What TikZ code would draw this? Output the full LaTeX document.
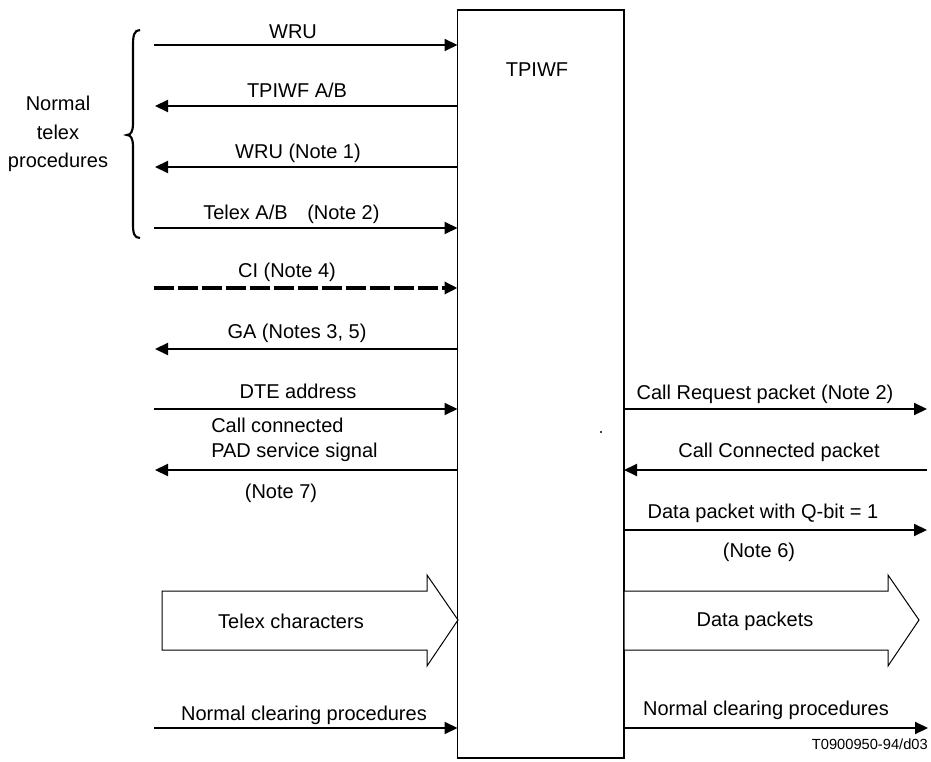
\documentclass[tikz,border=0pt]{standalone}
\usepackage{fontspec}
\setmainfont{Liberation Sans}
\usetikzlibrary{arrows.meta}
\begin{document}
\begin{tikzpicture}[x=0.75pt,y=-0.75pt,
  font=\fontsize{15}{18}\selectfont,
  arr/.style={line width=1.5pt,-{Triangle[length=9.75pt,width=9pt]}},
  dasharr/.style={line width=2.6pt,dash pattern=on 15pt off 3pt,-{Triangle[length=9.75pt,width=9pt]}},
  lbl/.style={anchor=base,inner sep=0pt},
  lbll/.style={anchor=base west,inner sep=0pt},
  bigarrow/.style={draw,line width=0.75pt,fill=white}]
\useasboundingbox (0,0) rectangle (931,762);
% central box
\node[draw,line width=1pt,outer sep=0pt,inner sep=0pt,anchor=north west,
      minimum width=124.875pt,minimum height=561pt] (tp) at (457.5,10) {};
\node[lbl] (tpl) at (537,77) {TPIWF};
% free ends on the left
\coordinate (a1) at (154,45);
\coordinate (a2) at (155,106);
\coordinate (a3) at (155,167);
\coordinate (a4) at (154,228);
\coordinate (a5) at (154,288);
\coordinate (a6) at (155,349);
\coordinate (a7) at (154,409);
\coordinate (a8) at (155,470);
\coordinate (a9) at (154,728);
% free ends on the right
\coordinate (b1) at (927,409);
\coordinate (b2) at (927,470);
\coordinate (b3) at (927,530);
\coordinate (b4) at (928,728);
% left connectors
\draw[arr] (a1) -- (a1 -| tp.west);
\draw[arr] (a2 -| tp.west) -- (a2);
\draw[arr] (a3 -| tp.west) -- (a3);
\draw[arr] (a4) -- (a4 -| tp.west);
\draw[dasharr] (a5) -- (a5 -| tp.west);
\draw[arr] (a6 -| tp.west) -- (a6);
\draw[arr] (a7) -- (a7 -| tp.west);
\draw[arr] (a8 -| tp.west) -- (a8);
\draw[arr] (a9) -- (a9 -| tp.west);
% right connectors
\draw[arr] (b1 -| tp.east) -- (b1);
\draw[arr] (b2) -- (b2 -| tp.east);
\draw[arr] (b3 -| tp.east) -- (b3);
\draw[arr] (b4 -| tp.east) -- (b4);
% labels left
\node[lbl] (l1) at (293,39) {WRU};
\node[lbl] (l2) at (297,98) {TPIWF A/B};
\node[lbl] (l3) at (298,159) {WRU (Note 1)};
\node[lbll] (l4) at (203,220) {Telex A/B};
\node[lbll] (l4n) at (307,220) {(Note 2)};
\node[lbl] (l5) at (287,278) {CI (Note 4)};
\node[lbl] (l6) at (297,339) {GA (Notes 3, 5)};
\node[lbl] (l7) at (298,399) {DTE address};
\node[lbll] (l8a) at (211,432) {Call connected};
\node[lbll] (l8b) at (211,457) {PAD service signal};
\node[lbl] (l8n) at (281,498) {(Note 7)};
\node[lbl] (l9) at (304,720) {Normal clearing procedures};
% labels right
\node[lbl] (r1) at (765,400) {Call Request packet (Note 2)};
\node[lbl] (r2) at (779,457) {Call Connected packet};
\node[lbl] (r3) at (763,518) {Data packet with Q-bit = 1};
\node[lbl] (r3n) at (759,557) {(Note 6)};
\node[lbl] (r4) at (766,715) {Normal clearing procedures};
% brace and its label
\draw[line width=1.6pt] (140,30) .. controls (134,30) and (133,36) .. (133,45)
  -- (133,124) .. controls (133,131) and (131,135) .. (127,135)
  .. controls (131,135) and (133,139) .. (133,146)
  -- (133,224) .. controls (133,233) and (134,238) .. (140,238);
\node[align=center,inner sep=0pt,font=\fontsize{15}{21.4}\selectfont] (ntp) at (58,134) {Normal\\telex\\procedures};
% big arrows
\draw[bigarrow] (162,591) -- (427,591) -- (427,575) -- (458,620) -- (427,666) -- (427,650) -- (162,650) -- cycle;
\node (tc) at (291,621) {Telex characters};
\draw[bigarrow] (624,591) -- (888,591) -- (888,575) -- (919,620) -- (888,666) -- (888,650) -- (624,650) -- cycle;
\node (dp) at (755,621) {Data packets};
% stray dot
\fill (601,432) circle[radius=1.2];
% figure code
\node[anchor=base east,inner sep=0pt,font=\fontsize{11}{13}\selectfont] (code) at (928,749) {T0900950-94/d03};
\end{tikzpicture}
\end{document}
